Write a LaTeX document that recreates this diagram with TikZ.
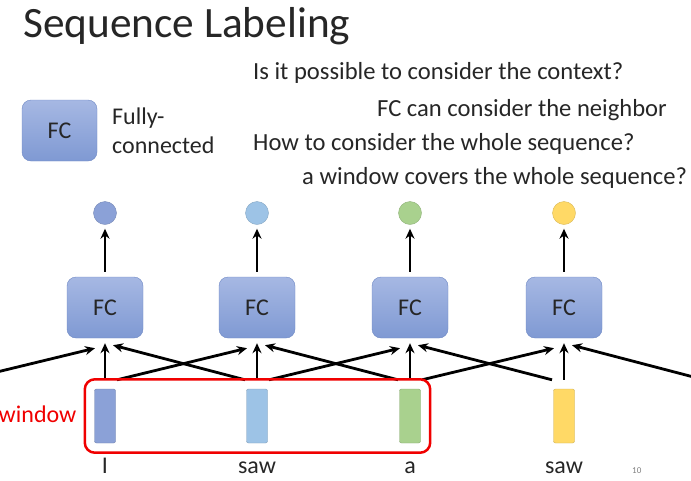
\documentclass[tikz,border=0pt]{standalone}
\usepackage{fontspec}
\setmainfont{Carlito}
\usetikzlibrary{arrows.meta,calc,fit}
\definecolor{ink}{HTML}{262626}
\definecolor{fctop}{HTML}{A6B8E3}
\definecolor{fcbot}{HTML}{7F99D3}
\definecolor{fcedge}{HTML}{6E88C4}
\definecolor{cola}{HTML}{8BA1D7}
\definecolor{colb}{HTML}{9DC3E6}
\definecolor{colc}{HTML}{A9D18E}
\definecolor{cold}{HTML}{FFD966}
\definecolor{winred}{HTML}{F00000}

\begin{document}
\begin{tikzpicture}[>={Stealth[length=10pt,width=9pt]}, x=1pt, y=-1pt,
    txt/.style={font=\fontsize{24.6}{30}\selectfont, text=ink, anchor=base west, inner sep=0pt},
    fcbox/.style={draw=fcedge, rounded corners=9pt, top color=fctop, bottom color=fcbot,
      minimum width=76pt, minimum height=61pt, text=ink, font=\fontsize{24}{24}\selectfont},
    vec/.style={draw=#1!80!black, fill=#1, rounded corners=2pt, minimum width=21pt,
      minimum height=54pt, inner sep=0pt},
    outc/.style={circle, draw=#1!85!black, fill=#1, minimum size=23pt, inner sep=0pt},
    conn/.style={->, line width=2.8pt, black}]
    \clip (0,0) rectangle (691,480);

    % title and questions
    \node[txt, font=\fontsize{43.3}{44}\selectfont] (title) at (23,37) {Sequence Labeling};
    \node[txt] (q1) at (253,79) {Is it possible to consider the context?};
    \node[txt] (q2) at (377,116) {FC can consider the neighbor};
    \node[txt] (q3) at (253,150) {How to consider the whole sequence?};
    \node[txt] (q4) at (302,184) {a window covers the whole sequence?};

    % legend
    \node[fcbox, minimum width=75pt] (legfc) at (59.5,130.5) {FC};
    \node[txt, font=\fontsize{24}{24}\selectfont] (full) at (112,124) {Fully-};
    \node[txt, font=\fontsize{24}{24}\selectfont] (conn) at (112,153) {connected};

    % network
    \foreach \i/\x/\c/\w in {1/105/cola/I, 2/257/colb/saw, 3/410/colc/a, 4/564/cold/saw} {
      \node[outc=\c] (out\i) at (\x,213) {};
      \node[fcbox] (fc\i) at (\x,307.5) {FC};
      \node[vec=\c] (in\i) at (\x,416) {};
      \node[txt, anchor=base, font=\fontsize{24}{24}\selectfont] (w\i) at (\x,473) {\w};
      \draw[conn, shorten <=5pt, shorten >=4pt] (fc\i.north) -- (out\i.south);
      \coordinate (top\i) at (in\i.north);
    }
    \coordinate (top0) at (-48,389);
    \coordinate (top5) at (717,389);

    \foreach \i in {1,...,4} {
      \pgfmathtruncatemacro\l{\i-1}
      \pgfmathtruncatemacro\r{\i+1}
      \draw[conn] ($(top\l)+(12,-9)$) -- ($(fc\i.south)+(-10,10)$);
      \draw[conn] ($(top\i)+(0,-9)$) -- ($(fc\i.south)+(0,5)$);
      \draw[conn] ($(top\r)+(-12,-9)$) -- ($(fc\i.south)+(8,7)$);
    }

    % window
    \node[draw=winred, line width=2.5pt, rounded corners=10pt, inner sep=9.5pt,
      fit=(in1)(in3)] (win) {};
    \node[txt, anchor=east, text=winred, font=\fontsize{24}{24}\selectfont] (wlab) at ($(win.west)+(-7,-2)$) {window};

    \node[txt, text=gray, font=\fontsize{9}{9}\selectfont] (page) at (632,473) {10};
  \end{tikzpicture}
\end{document}
